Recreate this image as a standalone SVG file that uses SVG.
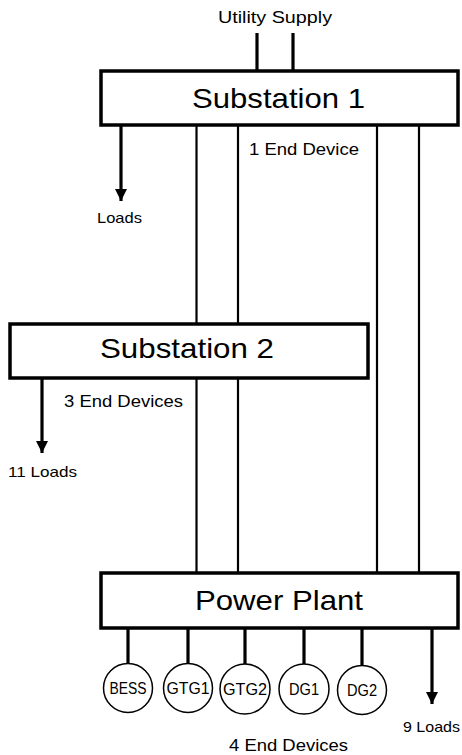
<svg xmlns="http://www.w3.org/2000/svg" width="462" height="755" viewBox="0 0 462 755">
<defs>
<style>
.box{fill:#fff;stroke:#000;stroke-width:3.5}
.dev{fill:#fff;stroke:#000;stroke-width:1.5}
.bus{stroke:#000;stroke-width:2.2;fill:none}
.thick{stroke:#000;stroke-width:3.2;fill:none}
text{font-family:"Liberation Sans",Arial,sans-serif;fill:#000}
.big{font-size:28px}
.mid{font-size:17px}
.sm{font-size:14.5px}
.cl{font-size:16px;text-anchor:middle}
</style>
<marker id="ah" viewBox="0 0 12 12" refX="12" refY="6" markerWidth="12" markerHeight="12" markerUnits="userSpaceOnUse" orient="auto">
<path d="M0,0 L12,6 L0,12 z" fill="#000"/>
</marker>
</defs>
<g id="connectors">
<line class="thick" x1="257" y1="33" x2="257" y2="72"/>
<line class="thick" x1="293" y1="33" x2="293" y2="72"/>
<line class="bus" x1="196.5" y1="125" x2="196.5" y2="572"/>
<line class="bus" x1="238" y1="125" x2="238" y2="572"/>
<line class="bus" x1="377" y1="125" x2="377" y2="572"/>
<line class="bus" x1="419" y1="125" x2="419" y2="572"/>
<line class="thick" x1="121" y1="125" x2="121" y2="201" marker-end="url(#ah)"/>
<line class="thick" x1="42" y1="378" x2="42" y2="453" marker-end="url(#ah)"/>
<line class="thick" x1="432" y1="628" x2="432" y2="704" marker-end="url(#ah)"/>
<line class="thick" x1="128" y1="628" x2="128" y2="663"/>
<line class="thick" x1="188" y1="628" x2="188" y2="663"/>
<line class="thick" x1="245" y1="628" x2="245" y2="664"/>
<line class="thick" x1="304" y1="628" x2="304" y2="664"/>
<line class="thick" x1="362" y1="628" x2="362" y2="665"/>
</g>
<g id="utility">
<text class="mid" x="218" y="23" textLength="114" lengthAdjust="spacingAndGlyphs">Utility Supply</text>
</g>
<g id="substation1">
<rect class="box" x="101" y="71" width="357" height="54"/>
<text class="big" x="192" y="108" textLength="173" lengthAdjust="spacingAndGlyphs">Substation 1</text>
</g>
<g id="label-ss1">
<text class="mid" x="249" y="155" textLength="110" lengthAdjust="spacingAndGlyphs">1 End Device</text>
<text class="sm" x="97" y="223" textLength="45" lengthAdjust="spacingAndGlyphs">Loads</text>
</g>
<g id="substation2">
<rect class="box" x="10" y="324" width="358" height="54"/>
<text class="big" x="100" y="358" textLength="174" lengthAdjust="spacingAndGlyphs">Substation 2</text>
</g>
<g id="label-ss2">
<text class="mid" x="64" y="407" textLength="119" lengthAdjust="spacingAndGlyphs">3 End Devices</text>
<text class="sm" x="8" y="477" textLength="69" lengthAdjust="spacingAndGlyphs">11 Loads</text>
</g>
<g id="powerplant">
<rect class="box" x="101" y="573" width="357" height="55"/>
<text class="big" x="195" y="610" textLength="168" lengthAdjust="spacingAndGlyphs">Power Plant</text>
</g>
<g id="bess">
<circle class="dev" cx="128" cy="688" r="24.5"/>
<text class="cl" x="128" y="694" textLength="37" lengthAdjust="spacingAndGlyphs">BESS</text>
</g>
<g id="gtg1">
<circle class="dev" cx="188" cy="688" r="24.5"/>
<text class="cl" x="188" y="694" textLength="43" lengthAdjust="spacingAndGlyphs">GTG1</text>
</g>
<g id="gtg2">
<circle class="dev" cx="245" cy="689" r="25"/>
<text class="cl" x="245" y="695" textLength="44" lengthAdjust="spacingAndGlyphs">GTG2</text>
</g>
<g id="dg1">
<circle class="dev" cx="304" cy="689" r="25"/>
<text class="cl" x="304" y="695" textLength="30" lengthAdjust="spacingAndGlyphs">DG1</text>
</g>
<g id="dg2">
<circle class="dev" cx="362" cy="690" r="24.5"/>
<text class="cl" x="362" y="696" textLength="30" lengthAdjust="spacingAndGlyphs">DG2</text>
</g>
<g id="label-pp">
<text class="sm" x="403" y="732" textLength="57" lengthAdjust="spacingAndGlyphs">9 Loads</text>
<text class="mid" x="229" y="751" textLength="119" lengthAdjust="spacingAndGlyphs">4 End Devices</text>
</g>
</svg>
